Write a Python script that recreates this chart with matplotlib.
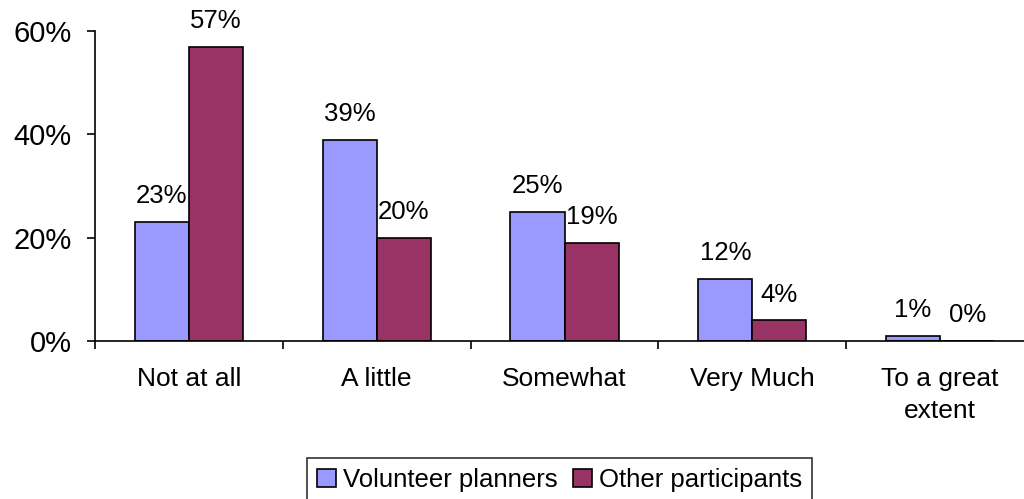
import matplotlib
matplotlib.use('Agg')
from matplotlib import pyplot as plt
from matplotlib.patches import Patch
import numpy as np

plt.rcParams['font.family'] = ['Liberation Sans', 'DejaVu Sans']

# data
categories = ['Not at all', 'A little', 'Somewhat', 'Very Much', 'To a great\nextent']
volunteer = [23, 39, 25, 12, 1]
other = [57, 20, 19, 4, 0]
series_names = ['Volunteer planners', 'Other participants']
colors = ['#9999FF', '#993366']

fig = plt.figure(figsize=(10.24, 4.99), dpi=100)
# axis runs off the right side, as in the original
ax = fig.add_axes([95/1024, 158/499, 939/1024, 310/499])

x = np.arange(len(categories))
w = 0.288
b1 = ax.bar(x - w/2, volunteer, w, color=colors[0], edgecolor='black', linewidth=1.2)
b2 = ax.bar(x + w/2, other, w, color=colors[1], edgecolor='black', linewidth=1.2)

# value labels above bars
for bars, vals in [(b1, volunteer), (b2, other)]:
    for r, v in zip(bars, vals):
        ax.annotate('%d%%' % v, (r.get_x() + r.get_width()/2, r.get_height()),
                    xytext=(0, 13.5), textcoords='offset points',
                    ha='center', va='baseline', fontsize=18.5)

ax.set_xlim(-0.5, len(categories) - 0.5)
ax.set_ylim(0, 60)
ax.set_yticks([0, 20, 40, 60])
ax.set_yticklabels(['0%', '20%', '40%', '60%'], fontsize=21)
ax.set_xticks(x)
ax.set_xticklabels(categories, fontsize=19, linespacing=1.4)
ax.set_xticks(np.arange(len(categories) + 1) - 0.5, minor=True)
ax.tick_params(axis='x', which='major', length=0, pad=19)
ax.tick_params(axis='x', which='minor', length=6, width=1.2, direction='out')
ax.tick_params(axis='y', length=6, width=1.2, direction='out', pad=11)

for s in ['top', 'right']:
    ax.spines[s].set_visible(False)
for s in ['left', 'bottom']:
    ax.spines[s].set_linewidth(1.2)
    ax.spines[s].set_color('black')

handles = [Patch(facecolor=c, edgecolor='black', linewidth=1.2) for c in colors]
leg = fig.legend(handles, series_names, loc='upper center', ncol=2,
                 bbox_to_anchor=(559.5/1024, 1 - 458/499), fontsize=18.5,
                 frameon=True, fancybox=False, borderaxespad=0,
                 handlelength=0.75, handleheight=0.7, handletextpad=0.25,
                 columnspacing=0.6, borderpad=0.4)
leg.get_frame().set_edgecolor('black')
leg.get_frame().set_linewidth(1.2)

plt.savefig('out.png', dpi=100)
